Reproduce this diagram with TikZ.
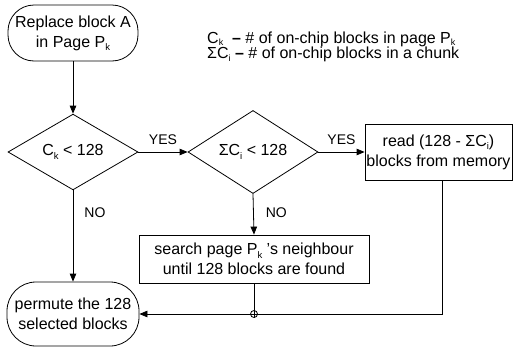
\documentclass[tikz,border=0pt]{standalone}
\usepackage{fontspec}
\setmainfont{Liberation Sans}
\usetikzlibrary{shapes.geometric,arrows.meta}
\newcommand\subtxt[1]{\raisebox{-0.4ex}{\fontsize{9.5}{9.5}\selectfont #1}}
\newcommand\legsub[1]{\raisebox{-0.3ex}{\fontsize{9}{9}\selectfont #1}}
\begin{document}
\begin{tikzpicture}[x=1pt,y=-1pt,
  every node/.style={font=\fontsize{16}{20}\selectfont, align=center, inner sep=0pt},
  terminal/.style={draw, rectangle, rounded corners=26pt, line width=0.8pt},
  decision/.style={draw, diamond, minimum width=130pt, minimum height=65pt, line width=0.8pt},
  process/.style={draw, rectangle, line width=0.8pt},
  flow/.style={line width=0.8pt, -{Triangle[length=8pt,width=6.5pt]}},
  plain/.style={line width=0.8pt},
  legend/.style={anchor=base west, align=left, font=\fontsize{16}{16}\selectfont},
  lbl/.style={font=\fontsize{14}{16}\selectfont}]
\useasboundingbox (0,0) rectangle (516,351);

% start and end terminals
\node[terminal, minimum width=130pt, minimum height=56pt] (start) at (73,33)
  {Replace block A\\in Page P\subtxt{k}};
\node[terminal, minimum width=132pt, minimum height=64pt, rounded corners=29pt] (perm) at (73,314)
  {permute the 128\\selected blocks};

% decisions
\node[decision] (d1) at (73,152) {C\subtxt{k} {\textless} 128};
\node[decision] (d2) at (253,152) {ΣC\subtxt{i} {\textless} 128};

% process boxes
\node[process, minimum width=147pt, minimum height=56pt] (read) at (438.5,152)
  {read (128 - ΣC\subtxt{i})\\blocks from memory};
\node[process, minimum width=230pt, minimum height=48pt] (search) at (254,259)
  {search page P\subtxt{k} 's neighbour\\until 128 blocks are found};

% legend, one line per symbol
\node[legend] (leg1) at (207,43)
  {C\legsub{k}\ \ \textbf{–} \# of on-chip blocks in page P\legsub{k}};
\node[legend] (leg2) at (207,58.5)
  {ΣC\legsub{i} \textbf{–} \# of on-chip blocks in a chunk};

% connectors
\draw[flow] (start.south) -- (d1.north);
\draw[flow] (d1.east) -- node[lbl, above=7pt] (yes1) {YES} (d2.west);
\draw[flow] (d2.east) -- node[lbl, above=7pt] (yes2) {YES} (read.west);
\draw[flow] (d1.south) -- node[lbl, pos=0.25, right=11pt] (no1) {NO} (perm.north);
\draw[flow] (d2.south) -- node[lbl, pos=0.45, right=12pt] (no2) {NO} (search.north);

\coordinate (join) at (search.south |- perm.east);
\coordinate (rdown) at ([xshift=4pt]read.south);
\draw[flow] (rdown) |- (perm.east);
\draw[plain] (search.south) -- ([yshift=-3.5pt]join);
\draw[plain] (join) circle (3.5pt);
\end{tikzpicture}
\end{document}
